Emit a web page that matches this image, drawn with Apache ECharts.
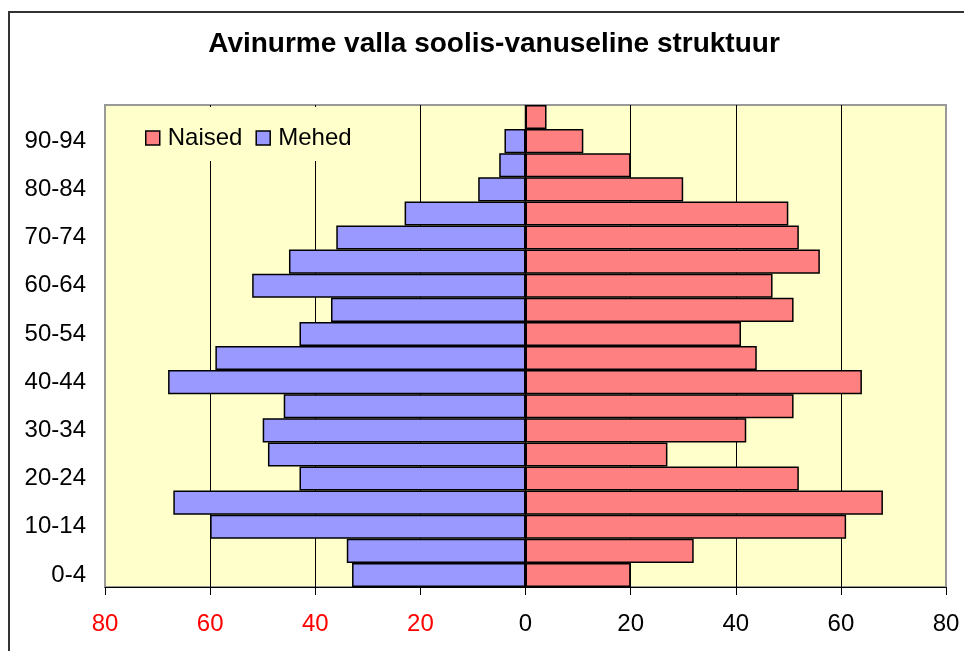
<!DOCTYPE html>
<html>
<head>
<meta charset="utf-8">
<script src="https://cdn.jsdelivr.net/npm/echarts@6/dist/echarts.min.js"></script>
<style>
html,body{margin:0;padding:0;background:#fff;}
#chart{width:964px;height:651px;}
</style>
</head>
<body>
<div id="chart"></div>
<script>
var categories = ['0-4','5-9','10-14','15-19','20-24','25-29','30-34','35-39','40-44','45-49','50-54','55-59','60-64','65-69','70-74','75-79','80-84','85-89','90-94','95+'];
var naised = [20,32,61,68,52,27,42,51,64,44,41,51,47,56,52,50,30,20,11,4];
var mehed = [33,34,60,67,43,49,50,46,68,59,43,37,52,45,36,23,9,5,4,0];
var xTicks = [-80,-60,-40,-20,0,20,40,60,80];
var titleText = 'Avinurme valla soolis-vanuseline struktuur';

var FONT = '"Liberation Sans", Arial, sans-serif';
var chart = echarts.init(document.getElementById('chart'), null, {renderer:'canvas'});
var option = {
  animation: false,
  backgroundColor: '#fff',
  textStyle: {fontFamily: FONT},
  graphic: [{
    type: 'rect', z: 100, silent: true,
    shape: {x: 9, y: 12, width: 1000, height: 700},
    style: {fill: 'none', stroke: '#333', lineWidth: 2}
  }],
  title: {
    text: titleText,
    left: 494, top: 30, textAlign: 'center', padding: 0,
    textStyle: {fontFamily: FONT, fontSize: 28, fontWeight: 'bold', color: '#000'}
  },
  legend: {
    data: ['Naised','Mehed'],
    left: 132, top: 107,
    padding: [19, 13, 11, 13],
    backgroundColor: '#FFFFCC',
    itemWidth: 14, itemHeight: 14, itemGap: 13,
    icon: 'rect',
    itemStyle: {borderColor: '#000', borderWidth: 1.5},
    textStyle: {fontFamily: FONT, fontSize: 24, color: '#000', padding: [0,0,0,3]}
  },
  grid: {
    left: 105, right: 18, top: 105, bottom: 64,
    show: true, backgroundColor: '#FFFFCC', borderColor: '#999', borderWidth: 2
  },
  xAxis: {
    type: 'value', min: xTicks[0], max: xTicks[xTicks.length-1], interval: 20,
    axisLine: {show: true, lineStyle: {color: '#000', width: 1}},
    axisTick: {show: true, length: 8, lineStyle: {color: '#000'}},
    axisLabel: {
      fontFamily: FONT, fontSize: 24, margin: 25,
      formatter: function (v) { return String(Math.abs(v)); },
      color: function (v) { return Number(v) < 0 ? '#FF0000' : '#000'; }
    },
    splitLine: {show: true, lineStyle: {color: ['#999','#000','#000','#000','#000','#000','#000','#000','#999'], width: 1}}
  },
  yAxis: {
    type: 'category', data: categories,
    axisLine: {show: false},
    axisTick: {show: false},
    axisLabel: {interval: 1, fontFamily: FONT, fontSize: 24, color: '#000', margin: 19},
    splitLine: {show: false}
  },
  series: [
    {
      name: 'Naised', type: 'bar', data: naised,
      barGap: '-100%', barCategoryGap: '0%',
      itemStyle: {color: '#FF8080', borderColor: '#000', borderWidth: 1.5}
    },
    {
      name: 'Mehed', type: 'bar', data: mehed.map(function (v) { return -v; }),
      barGap: '-100%', barCategoryGap: '0%',
      itemStyle: {color: '#9999FF', borderColor: '#000', borderWidth: 1.5}
    }
  ]
};
chart.setOption(option);
</script>
</body>
</html>
